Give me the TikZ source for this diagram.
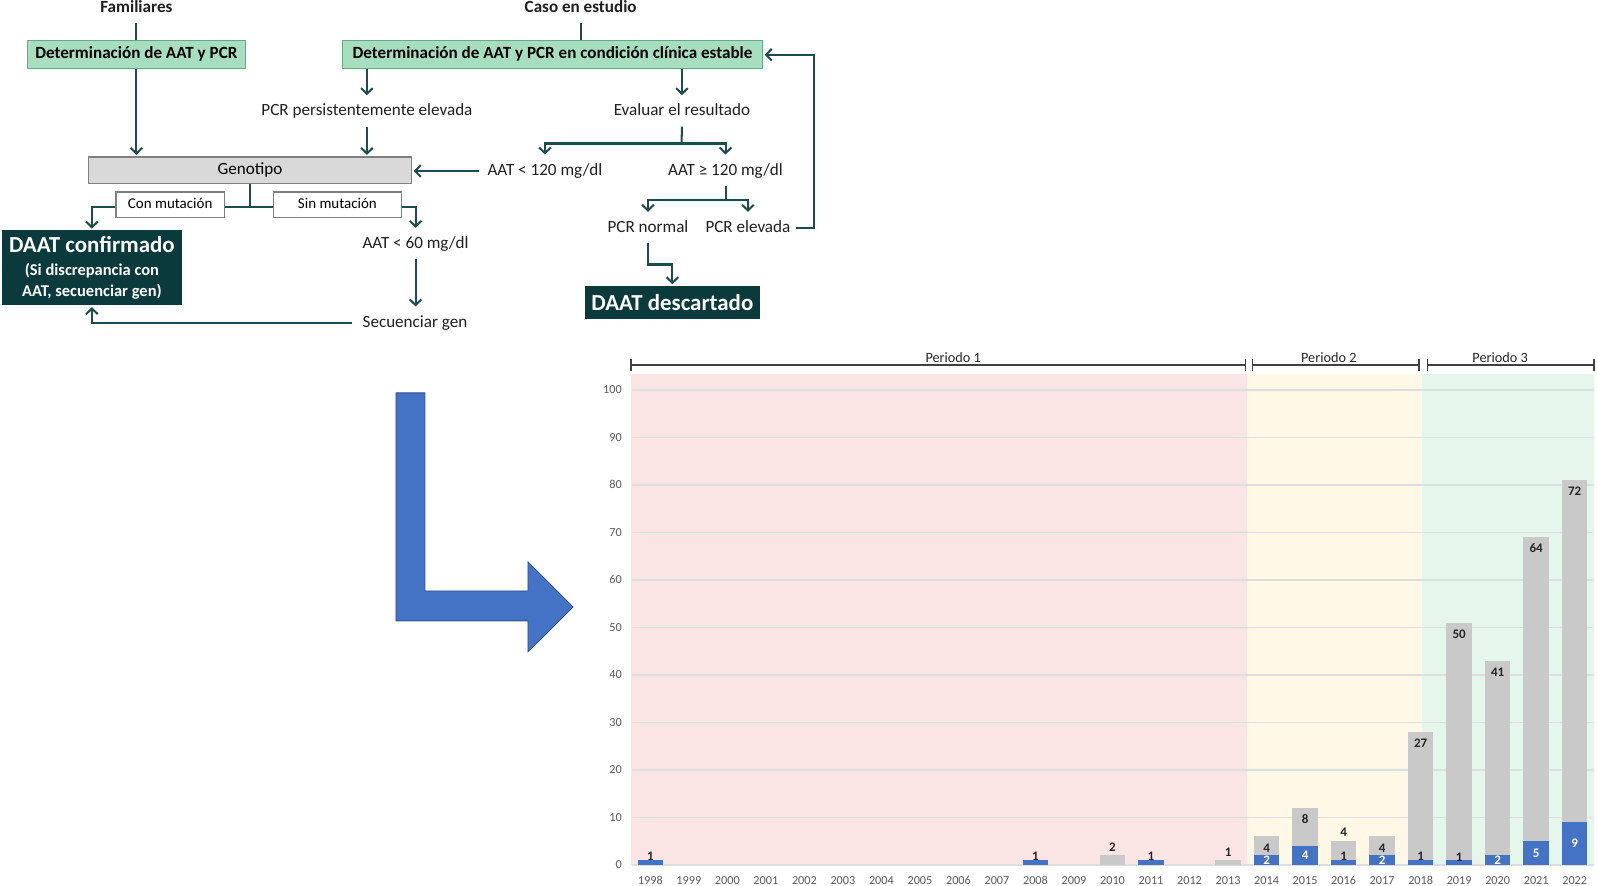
\documentclass[tikz,border=0pt]{standalone}
\usepackage{fontspec}
\setmainfont{Carlito}
\usetikzlibrary{arrows.meta,calc}
\definecolor{conn}{RGB}{28,76,78}
\definecolor{gfill}{RGB}{168,222,192}
\definecolor{gline}{RGB}{100,172,128}
\definecolor{dteal}{RGB}{10,58,60}
\definecolor{lgray}{RGB}{217,217,217}
\definecolor{mgray}{RGB}{128,128,128}
\definecolor{barblue}{RGB}{68,114,196}
\definecolor{bargray}{RGB}{201,201,201}
\definecolor{bgpink}{RGB}{250,228,228}
\definecolor{bgyel}{RGB}{255,248,230}
\definecolor{bggrn}{RGB}{229,246,236}
\definecolor{gridc}{RGB}{222,222,222}
\definecolor{axtxt}{RGB}{89,89,89}
\definecolor{dtxt}{RGB}{38,38,38}
\definecolor{brkc}{RGB}{64,64,64}
\definecolor{arrblueb}{RGB}{47,82,143}
\newcommand\myfs[2]{\fontsize{#1}{#2}\selectfont}
\begin{document}
\begin{tikzpicture}[x=1pt,y=-1pt,
  txt/.style={font=\myfs{16.8}{19}, text=black!88, inner xsep=5pt, inner ysep=7pt, text height=11.5pt, text depth=3.5pt},
  ttl/.style={txt, font=\myfs{16.8}{19}\bfseries},
  gbox/.style={draw=gline, fill=gfill, line width=1.2pt, inner sep=0pt, font=\myfs{16.8}{19}\bfseries, text height=11.5pt, text depth=3.5pt, minimum height=27.5pt},
  graybox/.style={draw=mgray, fill=lgray, line width=1.2pt, inner sep=0pt, font=\myfs{16.8}{19}, text height=11.5pt, text depth=3.5pt},
  wbox/.style={draw=mgray, fill=white, line width=1.2pt, inner sep=0pt, font=\myfs{14.7}{17}, text height=10pt, text depth=3pt, minimum height=25.2pt},
  dbox/.style={fill=dteal, text=white, inner sep=0pt, font=\myfs{22.5}{24}\bfseries, align=center},
  cline/.style={draw=conn, line width=2pt},
  arr/.style={cline, -{Straight Barb[length=5.5pt,width=11.5pt]}, shorten >=1.5pt},
  ylbl/.style={anchor=east, font=\myfs{12}{14}, text=axtxt, inner sep=0pt, text height=7.8pt, text depth=0pt},
  xlbl/.style={font=\myfs{12}{14}, text=axtxt, inner sep=0pt, text height=7.8pt, text depth=0pt},
  dlbl/.style={font=\myfs{12.8}{14}\bfseries, inner sep=0pt, text height=8pt, text depth=0pt},
  plbl/.style={font=\myfs{14}{16}, text=dtxt, inner sep=0pt, text height=9pt, text depth=0pt},
  brk/.style={draw=brkc, line width=1.6pt, {Bar[width=12pt]}-{Bar[width=12pt]}}
]
\useasboundingbox (0,-1) rectangle (1569,869);

% ---------- flowchart nodes ----------
\node[ttl] (fam) at (134,7.2) {Familiares};
\node[gbox, minimum width=214pt] (box1) at (134,52.75) {Determinación de AAT y PCR};
\node[ttl] (caso) at (570.5,7.2) {Caso en estudio};
\node[gbox, minimum width=412.6pt] (box2) at (542.9,52.75) {Determinación de AAT y PCR en condición clínica estable};
\node[txt] (pcrp) at (360.5,108.7) {PCR persistentemente elevada};
\node[txt] (eval) at (670,108.7) {Evaluar el resultado};
\node[graybox, minimum width=317.6pt, minimum height=26.3pt] (geno) at (245.6,166.4) {Genotipo};
\node[txt, inner xsep=8pt] (a120) at (535.4,167) {AAT < 120 mg/dl};
\node[txt] (ag120) at (712.8,167) {AAT ≥ 120 mg/dl};
\node[txt] (pcrn) at (636.6,223.3) {PCR normal};
\node[txt] (pcre) at (734.8,223.3) {PCR elevada};
\node[dbox, minimum width=172pt, minimum height=32.7pt] (desc) at (660.6,296.3) {DAAT descartado};
\node[dbox, font=\myfs{16.2}{20.8}\bfseries, minimum width=177.4pt, minimum height=73.7pt] (conf) at (90.3,262.2)
  {{\myfs{22.5}{20.8}DAAT confirmado}\\[1pt](Si discrepancia con\\AAT, secuenciar gen)};
\node[txt] (a60) at (408.3,239) {AAT < 60 mg/dl};
\node[txt, inner xsep=10pt] (sec) at (407.7,316.3) {Secuenciar gen};
\coordinate (br1) at (669.6,140);
\coordinate (br2) at (712.8,195.5);
\coordinate (br3) at (245.6,202.4);
\coordinate (loopR) at (800,100);

% ---------- connectors ----------
\draw[cline] (fam.south) -- (box1.north);
\draw[arr] (box1.south) -- (geno.north -| box1.south);
\draw[cline] (caso.south) -- (caso.south |- box2.north);
\draw[arr] (box2.south -| pcrp) -- (pcrp.north);
\draw[arr] (pcrp.south) -- (pcrp.south |- geno.north);
\draw[arr] (box2.south -| eval) -- (eval.north);
\draw[cline] (eval.south) -- (br1);
\draw[arr] (br1) -| (a120.north);
\draw[arr] (br1) -| (ag120.north);
\draw[arr] (a120.west) -- (a120.west -| geno.east);
\draw[cline] (ag120.south) -- (br2);
\draw[arr] (br2) -| (pcrn.north);
\draw[arr] (br2) -| (pcre.north);
\draw[arr] (pcre.east) -- (pcre.east -| loopR) |- (box2.east);
\draw[arr] (pcrn.south) |- ($(pcrn.south)!0.5!(desc.north)$) -| (desc.north);
\draw[cline] (geno.south) -- (br3);
\draw[arr] (br3) -| (conf.north);
\draw[arr] (br3) -| (a60.north);
\draw[arr] (a60.south) -- (a60.south |- sec.north);
\draw[arr] (sec.west) -| (conf.south);
\node[wbox, minimum width=106.4pt] (con) at (167.2,200.2) {Con mutación};
\node[wbox, minimum width=126pt] (sin) at (331.5,200.2) {Sin mutación};

% ---------- big blue arrow ----------
\fill[barblue, draw=arrblueb, line width=0.8pt] (389,385) -- (417.5,385) -- (417.5,579.6) -- (518.7,579.6)
  -- (518.7,551) -- (563,595.3) -- (518.7,639.5) -- (518.7,609) -- (389,609) -- cycle;

% ---------- chart ----------
\fill[bgpink] (620,366.4) rectangle (1225.4,848.7);
\fill[bgyel] (1225.4,366.4) rectangle (1397,848.7);
\fill[bggrn] (1397,366.4) rectangle (1566,848.7);
\foreach \v in {0,10,...,100} {
  \draw[gridc, line width=1.3pt] (621,{848.7-4.666*\v}) -- (1566,{848.7-4.666*\v});
  \node[ylbl] (yl\v) at (611,{848.7-4.666*\v}) {\v};
}
\foreach \i/\b/\g in {0/1/0,10/1/0,12/0/2,13/1/0,15/0/1,16/2/4,17/4/8,18/1/4,19/2/4,20/1/27,21/1/50,22/2/41,23/5/64,24/9/72} {
  \pgfmathsetmacro\xc{638.92+\i*37.84}
  \pgfmathsetmacro\yb{848.7-4.666*\b}
  \pgfmathsetmacro\yt{848.7-4.666*(\b+\g)}
  \ifnum\b>0 \fill[barblue] ({\xc-12.5},848.7) rectangle ({\xc+12.5},\yb); \fi
  \ifnum\g>0 \fill[bargray] ({\xc-12.5},\yb) rectangle ({\xc+12.5},\yt); \fi
}
\foreach \i in {0,...,24} {
  \pgfmathtruncatemacro\yr{1998+\i}
  \node[xlbl] (x\i) at ({638.92+\i*37.84},863.8) {\yr};
}
\foreach \i/\y/\t/\c [count=\k] in {0/840/1/dtxt,10/840/1/dtxt,12/832/2/dtxt,13/840/1/dtxt,15/836/1/dtxt,
  16/832.2/4/dtxt,16/844/2/white,17/804.2/8/dtxt,17/839.4/4/white,18/817/4/dtxt,18/840/1/dtxt,
  19/832.2/4/dtxt,19/844/2/white,20/729.6/27/dtxt,20/840/1/dtxt,21/622.2/50/dtxt,21/841/1/dtxt,
  22/659.6/41/dtxt,22/844/2/white,23/538.2/64/dtxt,23/837/5/white,24/482.2/72/dtxt,24/827.7/9/white} {
  \node[dlbl, text=\c] (dl\k) at ({638.92+\i*37.84},\y) {\t};
}
\coordinate (b1a) at (619,357.6);
\coordinate (b1b) at (1224.6,357.6);
\coordinate (b2a) at (1229.8,357.6);
\coordinate (b2b) at (1395,357.6);
\coordinate (b3a) at (1401.5,357.6);
\coordinate (b3b) at (1567,357.6);
\draw[brk] (b1a) -- (b1b);
\draw[brk] (b2a) -- (b2b);
\draw[brk] (b3a) -- (b3b);
\node[plbl] (per1) at (936.5,350.4) {Periodo 1};
\node[plbl] (per2) at (1305.5,350.4) {Periodo 2};
\node[plbl] (per3) at (1473.8,350.4) {Periodo 3};
\end{tikzpicture}
\end{document}
